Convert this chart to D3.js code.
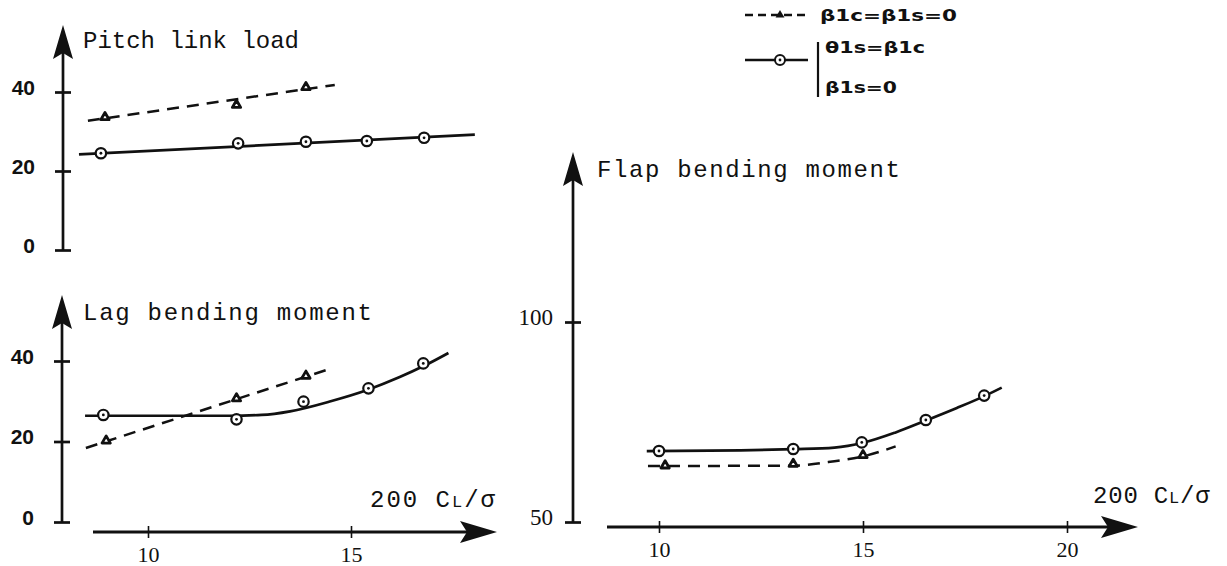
<!DOCTYPE html>
<html>
<head>
<meta charset="utf-8">
<script src="https://cdn.jsdelivr.net/npm/d3@7"></script>
<style>
  html, body { margin: 0; padding: 0; background: #fff; }
  svg { display: block; }
</style>
</head>
<body>
<svg id="chart" width="1227" height="566"></svg>
<script>
// ---- data (x = 200 CL/sigma) ----
// circles: theta1s = beta1c, beta1s = 0 ; triangles: beta1c = beta1s = 0
const pitchCircleX   = [8.84, 12.22, 13.89, 15.39, 16.8];
const pitchCircleY   = [24.5, 27.0, 27.4, 27.6, 28.4];
const pitchSolidX    = [8.3, 18.05];
const pitchSolidY    = [24.2, 29.2];
const pitchTriX      = [8.94, 12.18, 13.89];
const pitchTriY      = [33.6, 36.7, 41.2];
const pitchDashX     = [8.52, 14.6];
const pitchDashY     = [32.7, 41.8];

const lagCircleX     = [8.9, 12.18, 13.83, 15.43, 16.78];
const lagCircleY     = [26.6, 25.5, 29.9, 33.2, 39.4];
const lagSolidX      = [8.45, 10, 12, 12.8, 13.5, 14.5, 15.4, 16.2, 16.8, 17.4];
const lagSolidY      = [26.4, 26.4, 26.4, 26.6, 27.5, 30.0, 32.8, 36.0, 38.8, 42.0];
const lagTriX        = [8.97, 12.18, 13.89];
const lagTriY        = [20.2, 30.7, 36.3];
const lagDashX       = [8.47, 14.56];
const lagDashY       = [18.4, 38.3];

const flapCircleX    = [10, 13.29, 14.97, 16.54, 17.97];
const flapCircleY    = [67.75, 68.25, 69.9, 75.5, 81.6];
const flapSolidX     = [9.7, 12, 13.3, 14.3, 15, 15.8, 16.55, 17.3, 18.0, 18.4];
const flapSolidY     = [67.7, 67.9, 68.2, 68.6, 69.8, 72.4, 75.4, 78.5, 81.6, 83.6];
const flapTriX       = [10.15, 13.29, 15.0];
const flapTriY       = [64.1, 64.5, 66.7];
const flapDashX      = [9.73, 13.3, 14.3, 15.0, 15.8];
const flapDashY      = [64.0, 64.1, 65.2, 66.4, 68.9];

const leftXTicks     = [10, 15];
const rightXTicks    = [10, 15, 20];
const pitchTicks     = [0, 20, 40];
const lagTicks       = [0, 20, 40];
const flapTicks      = [50, 100];

const titles = ["Pitch link load", "Lag bending moment", "Flap bending moment"];
const legendDashed = "β1c=β1s=0";
const legendSolid  = ["θ1s=β1c", "β1s=0"];

// ---- drawing ----
const svg = d3.select("#chart");
const INK = "#111";
const MONO = "'Liberation Mono', 'DejaVu Sans Mono', monospace";
const SANS = "'Liberation Sans', Arial, sans-serif";
const SERIF = "'Liberation Serif', 'Times New Roman', serif";
const LW = 2.7;

const zip = (xs, ys) => xs.map((x, i) => [x, ys[i]]);

// shared horizontal scales
const xLeft  = d3.scaleLinear().domain([10, 15]).range([148, 351]);
const xRight = d3.scaleLinear().domain([10, 15]).range([659, 863]);

// vertical scales
const yPitch = d3.scaleLinear().domain([0, 40]).range([250, 92]);
const yLag   = d3.scaleLinear().domain([0, 40]).range([522, 361]);
const yFlap  = d3.scaleLinear().domain([50, 100]).range([522, 322]);

function upArrow(g, x, yTip, yBottom) {
  g.append("line").attr("x1", x).attr("x2", x).attr("y1", yTip + 20).attr("y2", yBottom)
    .attr("stroke", INK).attr("stroke-width", LW);
  g.append("path")
    .attr("d", `M${x},${yTip} L${x + 10},${yTip + 34} L${x},${yTip + 28} L${x - 10},${yTip + 34} Z`)
    .attr("fill", INK);
}

function rightArrow(g, xStart, xTip, y) {
  g.append("line").attr("x1", xStart).attr("x2", xTip - 20).attr("y1", y).attr("y2", y)
    .attr("stroke", INK).attr("stroke-width", LW + 0.5);
  g.append("path")
    .attr("d", `M${xTip},${y} L${xTip - 37},${y - 11} L${xTip - 30},${y} L${xTip - 37},${y + 11} Z`)
    .attr("fill", INK);
}

function yAxis(scale, x, ticks, opts) {
  const g = svg.append("g").attr("transform", `translate(${x},0)`);
  g.call(d3.axisLeft(scale).tickValues(ticks).tickSize(0).tickFormat(d3.format("d")));
  g.select(".domain").remove();
  g.selectAll(".tick line").attr("x1", -8).attr("x2", 8)
    .attr("stroke", INK).attr("stroke-width", LW);
  g.selectAll(".tick text")
    .attr("x", -opts.gap).attr("dy", opts.dy)
    .attr("fill", INK)
    .style("font-family", opts.font).style("font-size", opts.size + "px")
    .style("font-weight", opts.weight || "normal")
    .attr("text-anchor", "end");
  return g;
}

function xAxis(scale, y, ticks) {
  const g = svg.append("g").attr("transform", `translate(0,${y})`);
  g.call(d3.axisBottom(scale).tickValues(ticks).tickSize(0).tickFormat(d3.format("d")));
  g.select(".domain").remove();
  g.selectAll(".tick line").attr("y1", -6).attr("y2", 6)
    .attr("stroke", INK).attr("stroke-width", 1.6);
  g.selectAll(".tick text")
    .attr("y", 0).attr("dy", 30)
    .attr("fill", INK)
    .style("font-family", SERIF).style("font-size", "22px");
  return g;
}

function title(text, x, y, width) {
  svg.append("text").attr("x", x).attr("y", y)
    .attr("textLength", width).attr("lengthAdjust", "spacing")
    .attr("fill", INK)
    .style("font-family", MONO).style("font-size", "24px")
    .text(text);
}

function xLabel(x, y, spacing) {
  const t = svg.append("text").attr("x", x).attr("y", y).attr("fill", INK)
    .style("font-family", MONO).style("font-size", "24px").style("letter-spacing", spacing + "px");
  t.append("tspan").text("200 C");
  t.append("tspan").style("font-size", "17px").text("L");
  t.append("tspan").text("/σ");
}

function series(xs, ys, circX, circY, triX, triY, dashX, dashY, sx, sy) {
  const line = d3.line().x(d => sx(d[0])).y(d => sy(d[1])).curve(d3.curveMonotoneX);
  const g = svg.append("g");
  g.append("path").datum(zip(dashX, dashY)).attr("d", line)
    .attr("fill", "none").attr("stroke", INK).attr("stroke-width", 2.5)
    .attr("stroke-dasharray", "12 8");
  g.append("path").datum(zip(xs, ys)).attr("d", line)
    .attr("fill", "none").attr("stroke", INK).attr("stroke-width", LW);
  const tri = d3.symbol().type(d3.symbolTriangle).size(30);
  g.selectAll("path.tri").data(zip(triX, triY)).join("path").attr("class", "tri")
    .attr("transform", d => `translate(${sx(d[0])},${sy(d[1])})`)
    .attr("d", tri).attr("fill", "#fff").attr("stroke", INK).attr("stroke-width", 2.8)
    .attr("stroke-linejoin", "round");
  const c = g.selectAll("g.circ").data(zip(circX, circY)).join("g").attr("class", "circ")
    .attr("transform", d => `translate(${sx(d[0])},${sy(d[1])})`);
  c.append("circle").attr("r", 5.2).attr("fill", "#fff").attr("stroke", INK).attr("stroke-width", 2.2);
  c.append("circle").attr("r", 1.4).attr("fill", INK);
}

// Pitch link load panel
const axes = svg.append("g");
upArrow(axes, 63, 25, 250);
yAxis(yPitch, 63, pitchTicks, { gap: 28, dy: "0.1em", font: SANS, size: 21, weight: "bold" });
title(titles[0], 83, 48, 216);
series(pitchSolidX, pitchSolidY, pitchCircleX, pitchCircleY, pitchTriX, pitchTriY,
       pitchDashX, pitchDashY, xLeft, yPitch);

// Lag bending moment panel
upArrow(axes, 62, 295, 522);
yAxis(yLag, 62, lagTicks, { gap: 28, dy: "0.1em", font: SANS, size: 21, weight: "bold" });
title(titles[1], 83, 320, 289);
rightArrow(axes, 93, 497, 532);
xAxis(xLeft, 532, leftXTicks);
xLabel(370, 507, 2);
series(lagSolidX, lagSolidY, lagCircleX, lagCircleY, lagTriX, lagTriY,
       lagDashX, lagDashY, xLeft, yLag);

// Flap bending moment panel
upArrow(axes, 573, 152, 522);
yAxis(yFlap, 573, flapTicks, { gap: 20, dy: "0.1em", font: SERIF, size: 23 });
title(titles[2], 597, 177, 303);
rightArrow(axes, 607, 1138, 527);
xAxis(xRight, 527, rightXTicks);
xLabel(1093, 503, 0.8);
series(flapSolidX, flapSolidY, flapCircleX, flapCircleY, flapTriX, flapTriY,
       flapDashX, flapDashY, xRight, yFlap);

// Legend
const leg = svg.append("g");
leg.append("line").attr("x1", 745).attr("x2", 810).attr("y1", 15).attr("y2", 15)
  .attr("stroke", INK).attr("stroke-width", 2.4).attr("stroke-dasharray", "8 5");
leg.append("path").attr("transform", "translate(780,15)")
  .attr("d", d3.symbol().type(d3.symbolTriangle).size(34)).attr("fill", INK);
leg.append("text").attr("x", 820).attr("y", 21).attr("textLength", 137).attr("lengthAdjust", "spacingAndGlyphs")
  .attr("fill", INK).style("font-family", "'DejaVu Sans', sans-serif").style("font-weight", "bold")
  .style("font-size", "15px").text(legendDashed);

leg.append("line").attr("x1", 745).attr("x2", 808).attr("y1", 60).attr("y2", 60)
  .attr("stroke", INK).attr("stroke-width", 2.4);
leg.append("circle").attr("cx", 780).attr("cy", 60).attr("r", 5).attr("fill", "#fff")
  .attr("stroke", INK).attr("stroke-width", 2);
leg.append("circle").attr("cx", 780).attr("cy", 60).attr("r", 1.4).attr("fill", INK);
leg.append("line").attr("x1", 818).attr("x2", 818).attr("y1", 42).attr("y2", 97)
  .attr("stroke", INK).attr("stroke-width", 2.2);
leg.selectAll("text.sol").data(legendSolid).join("text").attr("class", "sol")
  .attr("x", 825).attr("y", (d, i) => i === 0 ? 53 : 93)
  .attr("textLength", (d, i) => i === 0 ? 100 : 72).attr("lengthAdjust", "spacingAndGlyphs")
  .attr("fill", INK).style("font-family", "'DejaVu Sans', sans-serif").style("font-weight", "bold")
  .style("font-size", "15px").text(d => d);
</script>
</body>
</html>
